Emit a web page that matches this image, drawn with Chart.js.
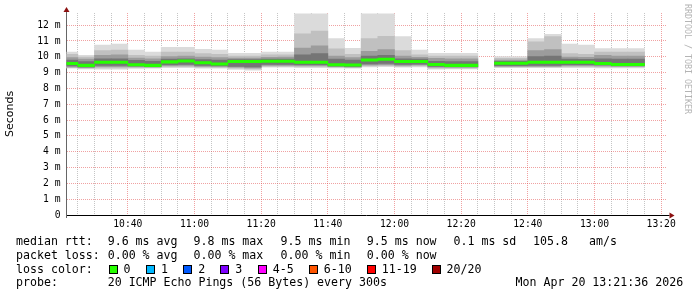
<!DOCTYPE html>
<html>
<head>
<meta charset="utf-8">
<script src="https://cdn.jsdelivr.net/npm/chart.js@4.4.1/dist/chart.umd.min.js"></script>
<style>
    html, body { margin: 0; padding: 0; background: #fff; }
    #wrap { position: relative; width: 697px; height: 297px; overflow: hidden; }
    #wrap canvas { position: absolute; left: 0; top: 0; }
    .t { position: absolute; font: 11.6px "DejaVu Sans Mono", monospace; color: #000; white-space: pre; line-height: 14px; }
    .box { position: absolute; width: 7px; height: 7px; border: 1px solid #000; }
    #credit { position: absolute; left: 683px; top: 4px; font: 8.3px "DejaVu Sans Mono", monospace; color: #b4b4b4;
              writing-mode: vertical-rl; white-space: pre; line-height: 10px; }
</style>
</head>
<body>
<div id="wrap">
    <canvas id="chart" width="697" height="297"></canvas>
    <div id="credit">RRDTOOL / TOBI OETIKER</div>
</div>
<script>
'use strict'

// 5 minute bins (start time of each bin)
const binStart = ['10:20', '10:25', '10:30', '10:35', '10:40', '10:45', '10:50', '10:55', '11:00', '11:05',
    '11:10', '11:15', '11:20', '11:25', '11:30', '11:35', '11:40', '11:45', '11:50', '11:55',
    '12:00', '12:05', '12:10', '12:15', '12:20', '12:25', '12:30', '12:35', '12:40', '12:45',
    '12:50', '12:55', '13:00', '13:05', '13:10'];

// median rtt, ms
const medianRtt = [9.58, 9.46, 9.65, 9.65, 9.50, 9.46, 9.68, 9.74, 9.62, 9.55, 9.70, 9.70, 9.72, 9.72, 9.66,
    9.66, 9.50, 9.48, 9.80, 9.85, 9.71, 9.71, 9.52, 9.46, 9.46, null, 9.60, 9.60, 9.65, 9.65,
    9.65, 9.65, 9.58, 9.52, 9.52];

// smoke: spread of the 20 pings in each bin, ms (outer -> inner)
const smokeMax = [10.30, 10.10, 10.74, 10.80, 10.42, 10.30, 10.60, 10.60, 10.48, 10.42, 10.22, 10.22, 10.30, 10.30, 12.72,
    12.72, 11.15, 10.54, 12.72, 12.72, 11.28, 10.42, 10.22, 10.22, 10.22, null, 10.02, 10.02, 11.15, 11.42,
    10.80, 10.74, 10.52, 10.52, 10.52];
const smokeHi2 = [10.15, 9.98, 10.40, 10.42, 10.10, 10.05, 10.30, 10.30, 10.20, 10.15, 10.05, 10.05, 10.12, 10.12, 11.46,
    11.62, 10.50, 10.15, 11.15, 11.30, 10.40, 10.12, 10.05, 10.05, 10.05, null, 9.90, 9.90, 10.95, 11.28,
    10.20, 10.15, 10.30, 10.30, 10.30];
const smokeHi3 = [9.95, 9.85, 10.10, 10.12, 9.92, 9.88, 10.02, 10.05, 9.98, 9.95, 9.92, 9.92, 9.96, 9.98, 10.55,
    10.70, 10.05, 9.95, 10.35, 10.45, 10.05, 9.96, 9.90, 9.88, 9.88, null, 9.80, 9.80, 10.40, 10.45,
    9.98, 9.96, 10.10, 10.05, 10.05];
const smokeHi4 = [9.80, 9.70, 9.88, 9.88, 9.78, 9.72, 9.86, 9.88, 9.82, 9.80, 9.82, 9.82, 9.86, 9.86, 10.12,
    10.20, 9.85, 9.80, 10.05, 10.10, 9.88, 9.85, 9.72, 9.70, 9.70, null, 9.72, 9.72, 10.02, 10.05,
    9.85, 9.84, 9.88, 9.85, 9.85];
const smokeLo4 = [9.42, 9.36, 9.45, 9.45, 9.42, 9.40, 9.50, 9.52, 9.46, 9.44, 9.40, 9.36, 9.52, 9.52, 9.50,
    9.50, 9.42, 9.40, 9.55, 9.58, 9.52, 9.54, 9.40, 9.38, 9.38, null, 9.44, 9.44, 9.46, 9.46,
    9.50, 9.50, 9.48, 9.46, 9.46];
const smokeLo3 = [9.36, 9.32, 9.38, 9.38, 9.37, 9.36, 9.44, 9.45, 9.40, 9.38, 9.34, 9.30, 9.46, 9.46, 9.44,
    9.44, 9.38, 9.36, 9.48, 9.50, 9.46, 9.48, 9.34, 9.33, 9.33, null, 9.40, 9.40, 9.40, 9.40,
    9.44, 9.44, 9.42, 9.40, 9.40];
const smokeLo2 = [9.32, 9.28, 9.30, 9.30, 9.32, 9.32, 9.38, 9.38, 9.34, 9.33, 9.28, 9.24, 9.40, 9.40, 9.38,
    9.38, 9.34, 9.32, 9.42, 9.44, 9.40, 9.42, 9.28, 9.28, 9.28, null, 9.36, 9.36, 9.36, 9.36,
    9.38, 9.38, 9.36, 9.36, 9.36];
const smokeMin = [9.28, 9.24, 9.22, 9.22, 9.26, 9.28, 9.32, 9.32, 9.28, 9.28, 9.20, 9.16, 9.34, 9.34, 9.32,
    9.32, 9.30, 9.28, 9.36, 9.38, 9.34, 9.36, 9.22, 9.24, 9.24, null, 9.32, 9.32, 9.32, 9.32,
    9.32, 9.32, 9.30, 9.30, 9.30];

// axes
const xTickLabels = ['10:40', '11:00', '11:20', '11:40', '12:00', '12:20', '12:40', '13:00', '13:20'];
const yTickLabels = ['0', '1 m', '2 m', '3 m', '4 m', '5 m', '6 m', '7 m', '8 m', '9 m', '10 m', '11 m', '12 m'];

// legend
const rttStats = ['9.6 ms avg', '9.8 ms max', '9.5 ms min', '9.5 ms now', '0.1 ms sd', '105.8', 'am/s'];
const lossStats = ['0.00 % avg', '0.00 % max', '0.00 % min', '0.00 % now'];
const lossLabels = ['0', '1', '2', '3', '4-5', '6-10', '11-19', '20/20'];
const lossColors = ['#26ff00', '#00b8ff', '#0059ff', '#7e00ff', '#ff00ff', '#ff5500', '#ff0000', '#a00000'];
const probeText = '20 ICMP Echo Pings (56 Bytes) every 300s';
const stampText = 'Mon Apr 20 13:21:36 2026';

const toMin = s => { const [h, m] = s.split(':').map(Number); return h * 60 + m; };
const X_MIN = toMin('10:21') + 0.6;     // 10:21:36
const X_MAX = X_MIN + 180;
const STEP = 5;
const MEDIAN_HALF = 0.075;

const gridMinutes = [];
for (let m = Math.ceil(X_MIN / STEP) * STEP; m <= X_MAX; m += STEP) gridMinutes.push(m);
const gridValues = [];
for (let i = 0; i <= 25; i++) gridValues.push(i / 2);

function band(lo, hi) {
    const out = [];
    binStart.forEach((t, i) => {
        if (lo[i] == null || hi[i] == null) return;
        out.push({x: toMin(t) + STEP / 2, y: [lo[i], hi[i]]});
    });
    return out;
}

const medLo = medianRtt.map(v => v == null ? null : v - MEDIAN_HALF);
const medHi = medianRtt.map(v => v == null ? null : v + MEDIAN_HALF);

const MGRID = 'rgba(225,70,70,0.5)';
const GRID = 'rgba(150,150,150,0.55)';

const arrows = {
    id: 'arrows',
    afterDraw(chart) {
        const {ctx, chartArea: a} = chart;
        const ax = Math.round(a.left - 0.5) + 0.5;
        const ay = Math.round(a.bottom - 0.5) + 0.5;
        ctx.save();
        ctx.lineWidth = 1;
        ctx.strokeStyle = '#666';
        ctx.beginPath(); ctx.moveTo(ax, a.top); ctx.lineTo(ax, 9); ctx.stroke();
        ctx.beginPath(); ctx.moveTo(ax, a.bottom); ctx.lineTo(ax, a.bottom + 3); ctx.stroke();
        ctx.strokeStyle = '#000';
        ctx.beginPath(); ctx.moveTo(a.right, ay); ctx.lineTo(a.right + 3, ay); ctx.stroke();
        ctx.fillStyle = '#8b1010';
        ctx.beginPath(); ctx.moveTo(ax, 7); ctx.lineTo(ax - 3, 12); ctx.lineTo(ax + 3, 12); ctx.closePath(); ctx.fill();
        ctx.beginPath(); ctx.moveTo(a.right + 8, ay); ctx.lineTo(a.right + 3, ay - 3); ctx.lineTo(a.right + 3, ay + 3); ctx.closePath(); ctx.fill();
        ctx.restore();
    }
};

Chart.defaults.font.family = "'DejaVu Sans Mono', monospace";
Chart.defaults.color = '#000';

new Chart(document.getElementById('chart'), {
    type: 'bar',
    data: {
        datasets: [
            {label: 'median rtt', data: band(medLo, medHi), backgroundColor: lossColors[0]},
            {label: 'smoke 4', data: band(smokeLo4, smokeHi4), backgroundColor: '#757575'},
            {label: 'smoke 3', data: band(smokeLo3, smokeHi3), backgroundColor: '#9c9c9c'},
            {label: 'smoke 2', data: band(smokeLo2, smokeHi2), backgroundColor: '#c0c0c0'},
            {label: 'smoke 1', data: band(smokeMin, smokeMax), backgroundColor: '#dbdbdb'}
        ]
    },
    options: {
        responsive: false,
        animation: false,
        devicePixelRatio: 1,
        layout: {padding: {left: 0, top: 13, right: 30.5, bottom: 62}},
        datasets: {bar: {barPercentage: 1, categoryPercentage: 1, grouped: false, borderWidth: 0}},
        plugins: {legend: {display: false}, tooltip: {enabled: false}},
        scales: {
            x: {
                type: 'linear', min: X_MIN, max: X_MAX, offset: false, z: 1,
                afterBuildTicks: s => { s.ticks = gridMinutes.map(v => ({value: v})); },
                afterFit: s => { s.height = 20; },
                grid: {offset: false, drawTicks: false, lineWidth: 1,
                       color: c => (c.tick && c.tick.value % 20 === 0) ? MGRID : GRID},
                border: {color: '#000', width: 1, dash: [1, 1]},
                ticks: {autoSkip: false, maxRotation: 0, padding: 4, font: {size: 9.7},
                        callback: v => {
                            const i = xTickLabels.findIndex(l => toMin(l) === v);
                            return i < 0 ? '' : xTickLabels[i];
                        }}
            },
            y: {
                min: 0, max: 12.77, z: 1,
                afterBuildTicks: s => { s.ticks = gridValues.map(v => ({value: v})); },
                afterFit: s => { s.width = 66.5; },
                grid: {drawTicks: false, lineWidth: 1,
                       color: c => (c.tick && Number.isInteger(c.tick.value)) ? MGRID : GRID},
                border: {color: '#666', width: 1, dash: [1, 1]},
                ticks: {padding: 6, font: {size: 9.7},
                        callback: v => Number.isInteger(v) ? yTickLabels[v] : ''},
                title: {display: true, text: 'Seconds', color: '#000',
                        font: {family: "'DejaVu Sans', sans-serif", size: 11}, padding: {top: 4, bottom: 0}}
            }
        }
    },
    plugins: [arrows]
});

// text legend below the graph
const wrap = document.getElementById('wrap');
function put(text, x, y) {
    const d = document.createElement('div');
    d.className = 't';
    d.textContent = text;
    d.style.left = x + 'px';
    d.style.top = (y - 7.5) + 'px';
    wrap.appendChild(d);
    return d;
}
const cols = [107.7, 193.5, 280.6, 366.8, 453.5, 533, 589];
put('median rtt:', 16, 241);
rttStats.forEach((s, i) => put(s, cols[i], 241));
put('packet loss:', 16, 255);
lossStats.forEach((s, i) => put(s, cols[i], 255));
put('loss color:', 16, 269);
const boxX = [108.6, 146, 183.2, 220.3, 257.8, 308.8, 366.8, 431.6];
lossLabels.forEach((l, i) => {
    const b = document.createElement('div');
    b.className = 'box';
    b.style.left = boxX[i] + 'px';
    b.style.top = '265px';
    b.style.background = lossColors[i];
    wrap.appendChild(b);
    put(l, boxX[i] + 15, 269);
});
put('probe:', 16, 282.5);
put(probeText, 107.7, 282.5);
const st = put(stampText, 0, 282.5);
st.style.left = (683.6 - st.offsetWidth) + 'px';
</script>
</body>
</html>
